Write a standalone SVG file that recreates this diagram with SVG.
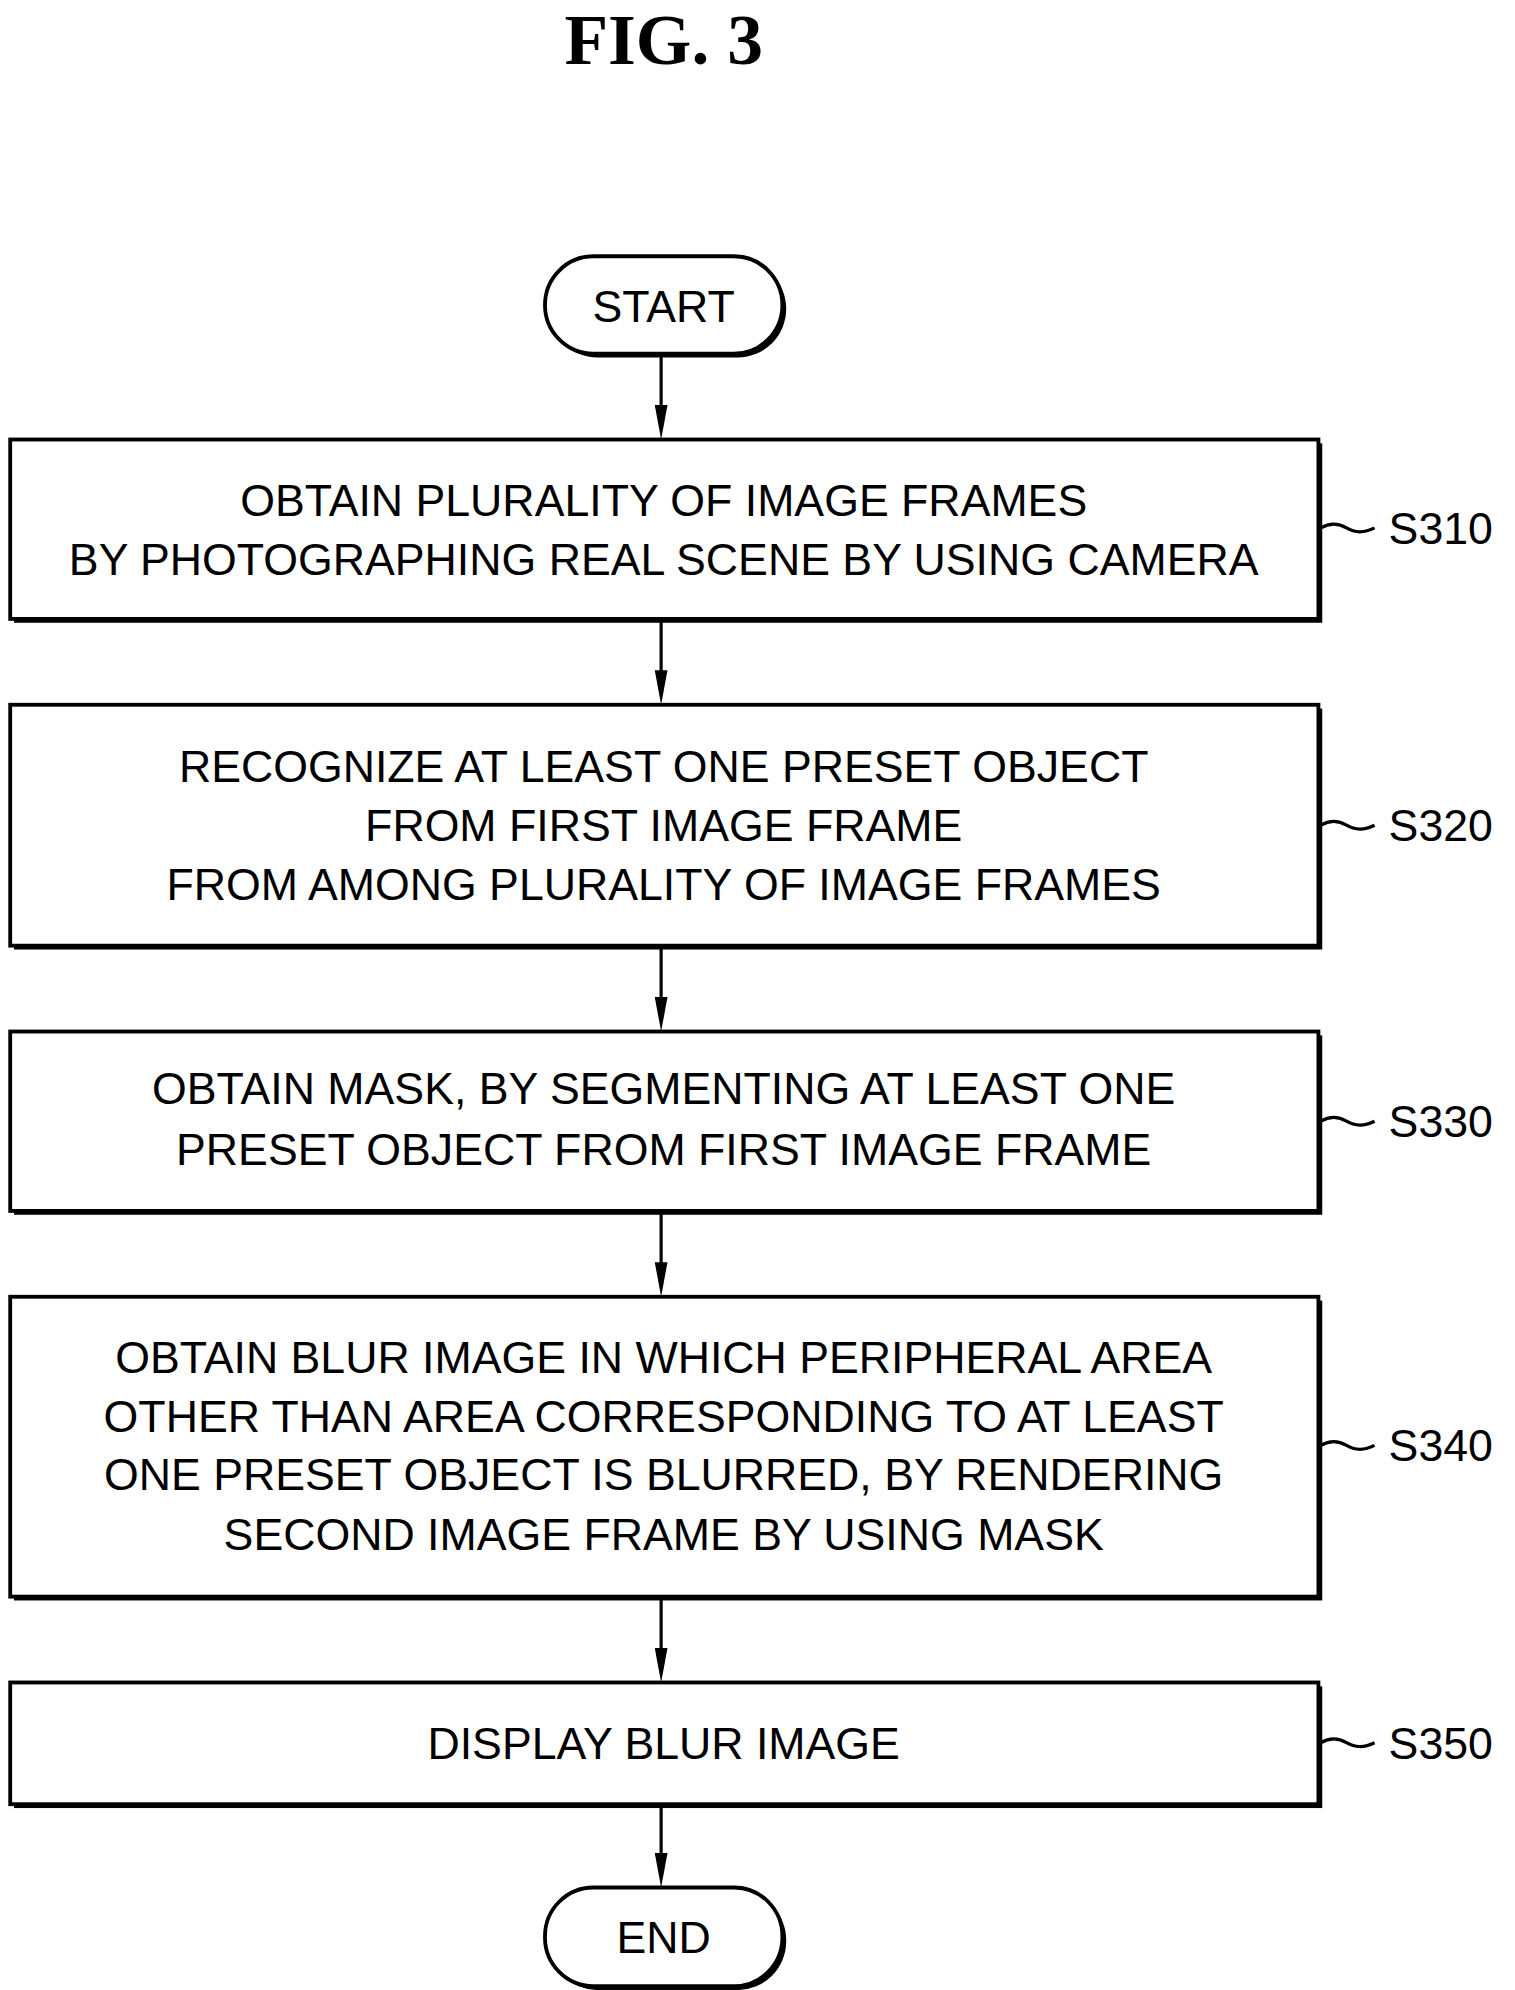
<svg xmlns="http://www.w3.org/2000/svg" width="1515" height="1990" viewBox="0 0 1515 1990">
<defs>
<marker id="ah" markerWidth="10" markerHeight="26" refX="5" refY="26" orient="auto-start-reverse" markerUnits="userSpaceOnUse" viewBox="0 0 10 26"><path d="M0,0 L10,0 L5,26 Z" transform="rotate(0)" fill="#000"/></marker>
<style>
.b{fill:#fff;stroke:#000;stroke-width:3}
.s{fill:#000}
.t{font-family:"Liberation Sans",Arial,sans-serif;font-size:35px;text-anchor:middle;dominant-baseline:central;fill:#000}
.l{font-family:"Liberation Sans",Arial,sans-serif;font-size:35px;dominant-baseline:central;fill:#000}
.c{stroke:#000;stroke-width:2.5;fill:none}
</style>
</defs>
<rect width="1515" height="1990" fill="#fff"/>
<g transform="scale(1.2763,1.2814)">
<text x="520" y="50" style="font-family:'Liberation Serif',serif;font-weight:bold;font-size:56px;text-anchor:middle">FIG.  3</text>
<g id="connectors">
<path class="c" d="M518,276 V318"/><path class="s" d="M513,316 L523,316 L518,343 Z"/>
<path class="c" d="M518,485 V525"/><path class="s" d="M513,523 L523,523 L518,550 Z"/>
<path class="c" d="M518,740 V780"/><path class="s" d="M513,778 L523,778 L518,805 Z"/>
<path class="c" d="M518,947 V987"/><path class="s" d="M513,985 L523,985 L518,1012 Z"/>
<path class="c" d="M518,1248 V1288"/><path class="s" d="M513,1286 L523,1286 L518,1313 Z"/>
<path class="c" d="M518,1410 V1448"/><path class="s" d="M513,1446 L523,1446 L518,1473 Z"/>
</g>
<g id="start"><rect x="430" y="203" width="186" height="76" rx="38" class="s"/><rect x="427" y="200" width="186" height="76" rx="38" class="b"/><text x="520" y="239" class="t">START</text></g>
<g id="s310"><rect x="11" y="346" width="1025" height="140" class="s"/><rect x="8" y="343" width="1025" height="140" class="b"/>
<text x="520" y="390" class="t">OBTAIN PLURALITY OF IMAGE FRAMES</text><text x="520" y="436" class="t">BY PHOTOGRAPHING REAL SCENE BY USING CAMERA</text>
<path class="c" d="M1035,412 q10,-6 20,0 t22,0"/><text x="1088" y="412" class="l">S310</text></g>
<g id="s320"><rect x="11" y="553" width="1025" height="188" class="s"/><rect x="8" y="550" width="1025" height="188" class="b"/>
<text x="520" y="598" class="t">RECOGNIZE AT LEAST ONE PRESET OBJECT</text><text x="520" y="644" class="t">FROM FIRST IMAGE FRAME</text><text x="520" y="690" class="t">FROM AMONG PLURALITY OF IMAGE FRAMES</text>
<path class="c" d="M1035,644 q10,-6 20,0 t22,0"/><text x="1088" y="644" class="l">S320</text></g>
<g id="s330"><rect x="11" y="808" width="1025" height="140" class="s"/><rect x="8" y="805" width="1025" height="140" class="b"/>
<text x="520" y="849" class="t">OBTAIN MASK, BY SEGMENTING AT LEAST ONE</text><text x="520" y="897" class="t">PRESET OBJECT FROM FIRST IMAGE FRAME</text>
<path class="c" d="M1035,875 q10,-6 20,0 t22,0"/><text x="1088" y="875" class="l">S330</text></g>
<g id="s340"><rect x="11" y="1015" width="1025" height="234" class="s"/><rect x="8" y="1012" width="1025" height="234" class="b"/>
<text x="520" y="1059" class="t">OBTAIN BLUR IMAGE IN WHICH PERIPHERAL AREA</text><text x="520" y="1105" class="t">OTHER THAN AREA CORRESPONDING TO AT LEAST</text><text x="520" y="1150" class="t">ONE PRESET OBJECT IS BLURRED, BY RENDERING</text><text x="520" y="1197" class="t">SECOND IMAGE FRAME BY USING MASK</text>
<path class="c" d="M1035,1128 q10,-6 20,0 t22,0"/><text x="1088" y="1128" class="l">S340</text></g>
<g id="s350"><rect x="11" y="1316" width="1025" height="95" class="s"/><rect x="8" y="1313" width="1025" height="95" class="b"/>
<text x="520" y="1360" class="t">DISPLAY BLUR IMAGE</text>
<path class="c" d="M1035,1360 q10,-6 20,0 t22,0"/><text x="1088" y="1360" class="l">S350</text></g>
<g id="end"><rect x="430" y="1476" width="186" height="77" rx="38" class="s"/><rect x="427" y="1473" width="186" height="77" rx="38" class="b"/><text x="520" y="1512" class="t">END</text></g>
</g>
</svg>
